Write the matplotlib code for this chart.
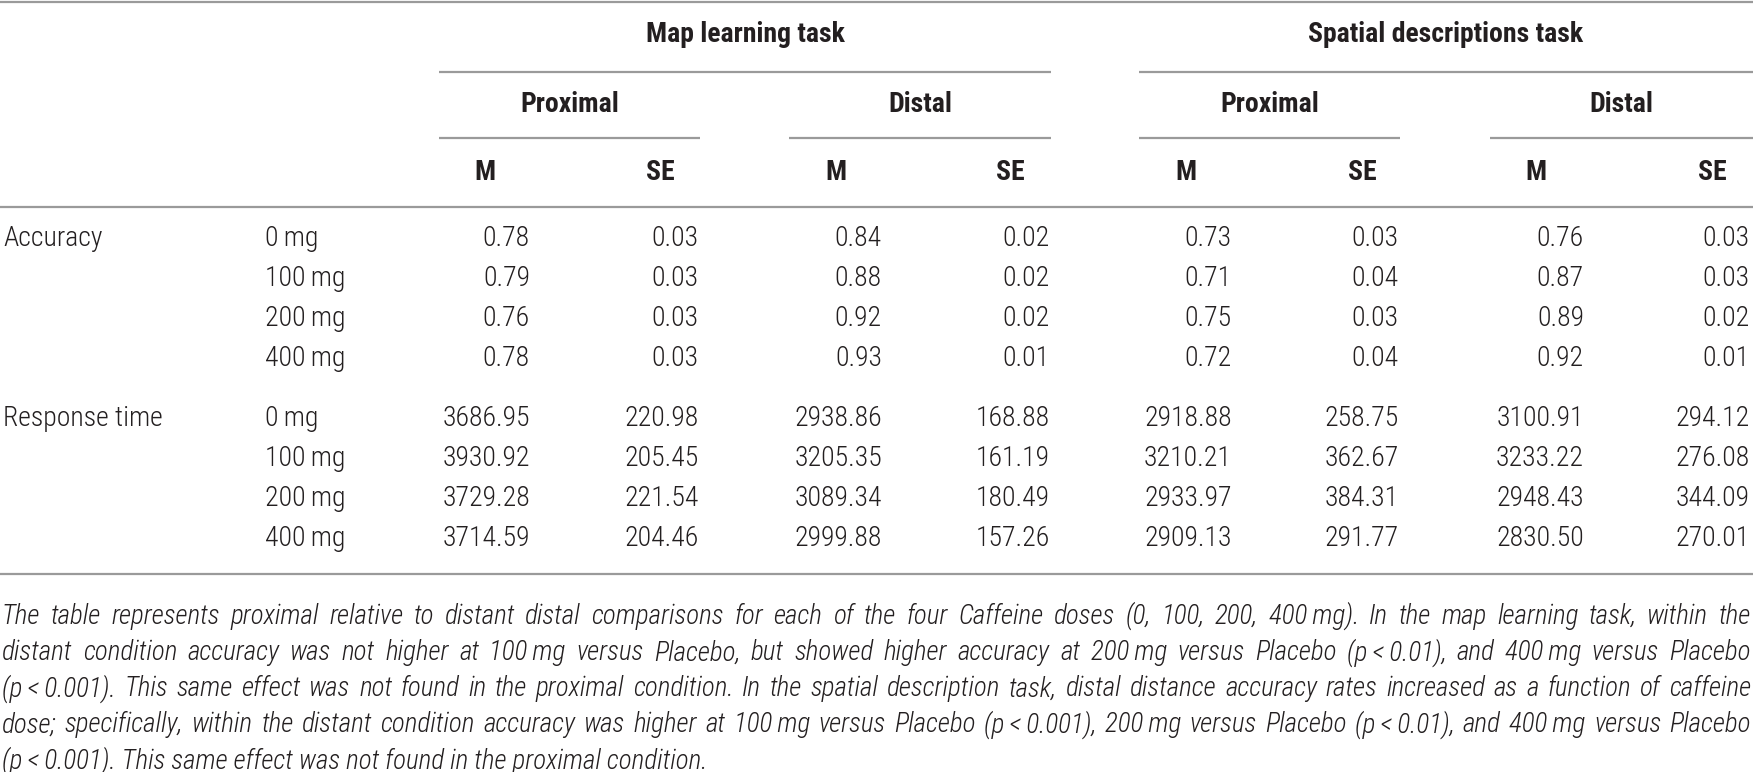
import matplotlib
matplotlib.use("Agg")
import matplotlib.pyplot as plt
from matplotlib import font_manager

# --- data ---------------------------------------------------------------
tasks = ["Map learning task", "Spatial descriptions task"]
conditions = ["Proximal", "Distal"]
stats = ["M", "SE"]
measures = ["Accuracy", "Response time"]
doses = ["0\u2009mg", "100\u2009mg", "200\u2009mg", "400\u2009mg"]

# columns: map prox M, SE, map distal M, SE, spatial prox M, SE, spatial distal M, SE
accuracy = [
    ["0.78", "0.03", "0.84", "0.02", "0.73", "0.03", "0.76", "0.03"],
    ["0.79", "0.03", "0.88", "0.02", "0.71", "0.04", "0.87", "0.03"],
    ["0.76", "0.03", "0.92", "0.02", "0.75", "0.03", "0.89", "0.02"],
    ["0.78", "0.03", "0.93", "0.01", "0.72", "0.04", "0.92", "0.01"],
]
response_time = [
    ["3686.95", "220.98", "2938.86", "168.88", "2918.88", "258.75", "3100.91", "294.12"],
    ["3930.92", "205.45", "3205.35", "161.19", "3210.21", "362.67", "3233.22", "276.08"],
    ["3729.28", "221.54", "3089.34", "180.49", "2933.97", "384.31", "2948.43", "344.09"],
    ["3714.59", "204.46", "2999.88", "157.26", "2909.13", "291.77", "2830.50", "270.01"],
]

caption_lines = [
    "The table represents proximal relative to distant distal comparisons for each of the four Caffeine doses (0, 100, 200, 400\u2009mg). In the map learning task, within the",
    "distant condition accuracy was not higher at 100\u2009mg versus Placebo, but showed higher accuracy at 200\u2009mg versus Placebo (p\u2009<\u20090.01), and 400\u2009mg versus Placebo",
    "(p\u2009<\u20090.001). This same effect was not found in the proximal condition. In the spatial description task, distal distance accuracy rates increased as a function of caffeine",
    "dose; specifically, within the distant condition accuracy was higher at 100\u2009mg versus Placebo (p\u2009<\u20090.001), 200\u2009mg versus Placebo (p\u2009<\u20090.01), and 400\u2009mg versus Placebo",
    "(p\u2009<\u20090.001). This same effect was not found in the proximal condition.",
]

# --- fonts --------------------------------------------------------------
installed = {f.name for f in font_manager.fontManager.ttflist}
families = [f for f in ["Roboto Condensed", "Liberation Sans Narrow", "DejaVu Sans"] if f in installed]
families.append("DejaVu Sans")
plt.rcParams["font.family"] = families

TXT = "#231f20"
RULE = "#9a9a9a"
FS = 20
CAP_FS = 19.5
BODY_W = "light"

W, H = 1753, 772
fig = plt.figure(figsize=(W / 100, H / 100), dpi=100)
ax = fig.add_axes([0, 0, 1, 1])
ax.set_xlim(0, W)
ax.set_ylim(H, 0)
ax.axis("off")


def hline(x0, x1, y, lw=1.6):
    ax.plot([x0, x1], [y, y], color=RULE, lw=lw, solid_capstyle="butt")


# full-width rules
hline(0, W, 2)
hline(0, W, 207)
hline(0, W, 574)

# task spans and condition spans
task_spans = [(439, 1051), (1139, 1753)]
cond_spans = [(439, 700), (789, 1051), (1139, 1400), (1490, 1753)]
head_x = [485, 660, 836, 1010, 1186, 1362, 1536, 1712]
col_right = [530, 699, 882, 1050, 1232, 1399, 1584, 1750]

for name, (a, b) in zip(tasks, task_spans):
    ax.text((a + b) / 2, 35, name, ha="center", va="center",
            fontsize=FS, fontweight="bold", color=TXT)
    hline(a, b, 72)

for i, (a, b) in enumerate(cond_spans):
    ax.text((a + b) / 2, 104, conditions[i % 2], ha="center", va="center",
            fontsize=FS, fontweight="bold", color=TXT)
    hline(a, b, 138)

for i, x in enumerate(head_x):
    ax.text(x, 172, stats[i % 2], ha="center", va="center",
            fontsize=FS, fontweight="bold", color=TXT)

# body
row_y = [[239, 279, 319, 359], [418, 458, 498, 538]]
for m, block, ys in zip(measures, [accuracy, response_time], row_y):
    ax.text(3, ys[0], m, ha="left", va="center", fontsize=FS,
            fontweight=BODY_W, color=TXT)
    for dose, row, y in zip(doses, block, ys):
        ax.text(265, y, dose, ha="left", va="center", fontsize=FS,
                fontweight=BODY_W, color=TXT)
        for val, x in zip(row, col_right):
            ax.text(x, y, val, ha="right", va="center", fontsize=FS,
                    fontweight=BODY_W, color=TXT)

# caption, justified to the full width except the last line
renderer = fig.canvas.get_renderer()
cap_y = [616, 653, 689, 725, 761]
for k, (line, y) in enumerate(zip(caption_lines, cap_y)):
    words = line.split(" ")
    if k == len(caption_lines) - 1:
        ax.text(2, y, line, ha="left", va="center", fontsize=CAP_FS,
                style="italic", fontweight=BODY_W, color=TXT)
        continue
    arts = [ax.text(0, y, w, ha="left", va="center", fontsize=CAP_FS,
                    style="italic", fontweight=BODY_W, color=TXT) for w in words]
    widths = [t.get_window_extent(renderer).width for t in arts]
    gap = (W - 4 - sum(widths)) / (len(words) - 1)
    x = 2
    for t, wd in zip(arts, widths):
        t.set_x(x)
        x += wd + gap

fig.savefig("out.png", dpi=100, facecolor="white")
